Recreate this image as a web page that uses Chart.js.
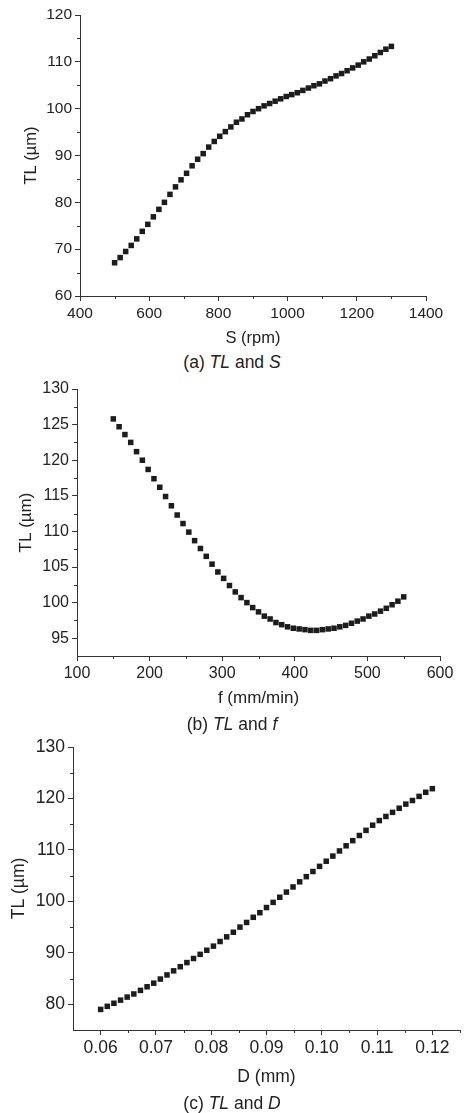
<!DOCTYPE html>
<html>
<head>
<meta charset="utf-8">
<script src="https://cdn.jsdelivr.net/npm/chart.js@4/dist/chart.umd.min.js"></script>
<style>
  html, body { margin: 0; padding: 0; background: #fff; }
  body { width: 464px; height: 1113px; position: relative; overflow: hidden; font-family: "Liberation Sans", Arial, sans-serif; color: #222; }
  .panel { position: absolute; left: 0; }
  .cap { position: absolute; left: 0; width: 464px; text-align: center; font-size: 17.5px; line-height: 20px; }
</style>
</head>
<body>
<div class="panel" style="top:0"><canvas id="chA" width="464" height="350"></canvas></div>
<div class="cap" style="top:352px">(a) <i>TL</i> and <i>S</i></div>
<div class="panel" style="top:370px"><canvas id="chB" width="464" height="345"></canvas></div>
<div class="cap" style="top:714px">(b) <i>TL</i> and <i>f</i></div>
<div class="panel" style="top:725px"><canvas id="chC" width="464" height="370"></canvas></div>
<div class="cap" style="top:1093px">(c) <i>TL</i> and <i>D</i></div>
<script>
// (a) TL vs spindle speed
const speedS = [500, 516, 532, 548, 564, 580, 596, 612, 628, 644, 660, 676, 692, 708, 724, 740, 756, 772, 788, 804,
    820, 836, 852, 868, 884, 900, 916, 932, 948, 964, 980, 996, 1012, 1028, 1044, 1060, 1076, 1092, 1108, 1124,
    1140, 1156, 1172, 1188, 1204, 1220, 1236, 1252, 1268, 1284, 1300];
const tlS = [67.1, 68.2, 69.5, 70.8, 72.2, 73.8, 75.3, 76.9, 78.5, 80.0, 81.7, 83.3, 84.8, 86.2, 87.8, 89.2, 90.4, 91.8, 93.0, 94.1,
    95.1, 96.1, 97.1, 97.8, 98.7, 99.4, 100.0, 100.6, 101.1, 101.6, 102.1, 102.6, 103.0, 103.4, 103.9, 104.4, 104.9, 105.3, 105.9, 106.4,
    107.0, 107.5, 108.1, 108.7, 109.3, 110.0, 110.6, 111.3, 112.0, 112.7, 113.3];

// (b) TL vs feed
const feedF = [150, 158, 166, 174, 182, 190, 198, 206, 214, 222, 230, 238, 246, 254, 262, 270, 278, 286, 294, 302,
    310, 318, 326, 334, 342, 350, 358, 366, 374, 382, 390, 398, 406, 414, 422, 430, 438, 446, 454, 462,
    470, 478, 486, 494, 502, 510, 518, 526, 534, 542, 550];
const tlF = [125.8, 124.7, 123.6, 122.5, 121.2, 120.0, 118.7, 117.4, 116.2, 114.9, 113.6, 112.3, 111.1, 109.9, 108.7, 107.6, 106.5, 105.4, 104.3, 103.4,
    102.4, 101.5, 100.7, 100.0, 99.3, 98.7, 98.1, 97.7, 97.2, 96.9, 96.6, 96.4, 96.3, 96.2, 96.1, 96.1, 96.2, 96.3, 96.4, 96.6,
    96.8, 97.1, 97.4, 97.7, 98.1, 98.4, 98.8, 99.2, 99.7, 100.2, 100.8];

// (c) TL vs depth of cut
const depthD = [0.0600, 0.0612, 0.0624, 0.0636, 0.0648, 0.0660, 0.0672, 0.0684, 0.0696, 0.0708, 0.0720, 0.0732, 0.0744, 0.0756, 0.0768, 0.0780, 0.0792,
    0.0804, 0.0816, 0.0828, 0.0840, 0.0852, 0.0864, 0.0876, 0.0888, 0.0900, 0.0912, 0.0924, 0.0936, 0.0948, 0.0960, 0.0972, 0.0984,
    0.0996, 0.1008, 0.1020, 0.1032, 0.1044, 0.1056, 0.1068, 0.1080, 0.1092, 0.1104, 0.1116, 0.1128, 0.1140, 0.1152, 0.1164, 0.1176, 0.1188, 0.1200];
const tlD = [79.0, 79.6, 80.2, 80.8, 81.4, 82.0, 82.7, 83.4,
    84.1, 84.9, 85.7, 86.5, 87.3, 88.1, 88.9, 89.7, 90.5,
    91.3, 92.2, 93.1, 94.0, 95.0, 95.9, 96.9, 97.8,
    98.8, 99.8, 100.8, 101.8, 102.8, 103.8, 104.8, 105.8, 106.8,
    107.8, 108.8, 109.8, 110.8, 111.8, 112.8, 113.8, 114.8,
    115.7, 116.5, 117.3, 118.1, 118.9, 119.6, 120.4, 121.2, 121.9];

const FONT = '"Liberation Sans", Arial, sans-serif';
const INK = '#222';
const AXIS = '#333';

// unlabelled ticks are minor: hide the long mark and draw a short one instead
const minorTicks = {
    id: 'minorTicks',
    afterDraw(chart) {
        const ctx = chart.ctx;
        ctx.save();
        ctx.strokeStyle = AXIS;
        ctx.lineWidth = 1;
        ctx.beginPath();
        Object.values(chart.scales).forEach((s) => {
            s.ticks.forEach((t) => {
                if (t.label !== '' || t.value === s.min) return;
                const p = Math.round(s.getPixelForValue(t.value)) + 0.5;
                if (s.isHorizontal()) { ctx.moveTo(p, s.top); ctx.lineTo(p, s.top + 3); }
                else { ctx.moveTo(s.right, p); ctx.lineTo(s.right - 3, p); }
            });
        });
        ctx.stroke();
        ctx.restore();
    },
};

function axis(o) {
    return {
        type: 'linear', position: o.pos, min: o.min, max: o.max,
        border: { color: AXIS, width: 1 },
        grid: {
            drawOnChartArea: false, drawTicks: true, tickLength: 5,
            tickColor: (c) => (c.tick && c.tick.label === '' ? 'rgba(0,0,0,0)' : AXIS),
        },
        ticks: {
            stepSize: o.step, autoSkip: false, maxRotation: 0, minRotation: 0,
            padding: o.pad, color: INK, font: { family: FONT, size: o.tickSize },
            callback: o.label,
        },
        title: { display: true, text: o.title, color: INK, font: { family: FONT, size: o.titleSize }, padding: o.titlePad },
        afterFit: (s) => { if (o.pos === 'left') s.width = o.box; else s.height = o.box; },
    };
}

function plot(id, xs, ys, cfg) {
    new Chart(document.getElementById(id), {
        type: 'scatter',
        data: { datasets: [{ data: xs.map((x, i) => ({ x, y: ys[i] })), pointStyle: 'rect', pointRadius: 3.9, pointBorderWidth: 0, backgroundColor: '#1c1c1c' }] },
        options: {
            responsive: false, animation: false,
            layout: { padding: { top: cfg.top, right: cfg.right, left: 0, bottom: 0 } },
            plugins: { legend: { display: false }, tooltip: { enabled: false } },
            scales: { x: axis(cfg.x), y: axis(cfg.y) },
        },
        plugins: [minorTicks],
    });
}

plot('chA', speedS, tlS, {
    top: 15, right: 38,
    x: { pos: 'bottom', min: 400, max: 1400, step: 100, pad: 3, tickSize: 15.5, title: 'S (rpm)', titleSize: 16.5, titlePad: { top: 0, bottom: 2 }, box: 54,
        label: (v) => (v % 200 === 0 ? String(v) : '') },
    y: { pos: 'left', min: 60, max: 120, step: 5, pad: 3, tickSize: 15.5, title: 'TL (µm)', titleSize: 16.5, titlePad: { top: 22, bottom: 0 }, box: 80,
        label: (v) => (v % 10 === 0 ? String(v) : '') },
});

plot('chB', feedF, tlF, {
    top: 19, right: 24,
    x: { pos: 'bottom', min: 100, max: 600, step: 50, pad: 3, tickSize: 16, title: 'f (mm/min)', titleSize: 17, titlePad: { top: 0, bottom: 6 }, box: 59,
        label: (v) => (v % 100 === 0 ? String(v) : '') },
    y: { pos: 'left', min: 92.5, max: 130, step: 2.5, pad: 3, tickSize: 16, title: 'TL (µm)', titleSize: 17, titlePad: { top: 16, bottom: 0 }, box: 77,
        label: (v) => (v % 5 === 0 ? String(v) : '') },
});

plot('chC', depthD, tlD, {
    top: 22, right: 4,
    x: { pos: 'bottom', min: 0.055, max: 0.125, step: 0.005, pad: 3, tickSize: 17.5, title: 'D (mm)', titleSize: 17.5, titlePad: { top: 0, bottom: 7.5 }, box: 65,
        label: (v) => (Math.round(v * 1000) % 10 === 0 ? v.toFixed(2) : '') },
    y: { pos: 'left', min: 75, max: 130, step: 5, pad: 3, tickSize: 17.5, title: 'TL (µm)', titleSize: 17.5, titlePad: { top: 8.5, bottom: 0 }, box: 73,
        label: (v) => (v % 10 === 0 ? String(v) : '') },
});
</script>
</body>
</html>
